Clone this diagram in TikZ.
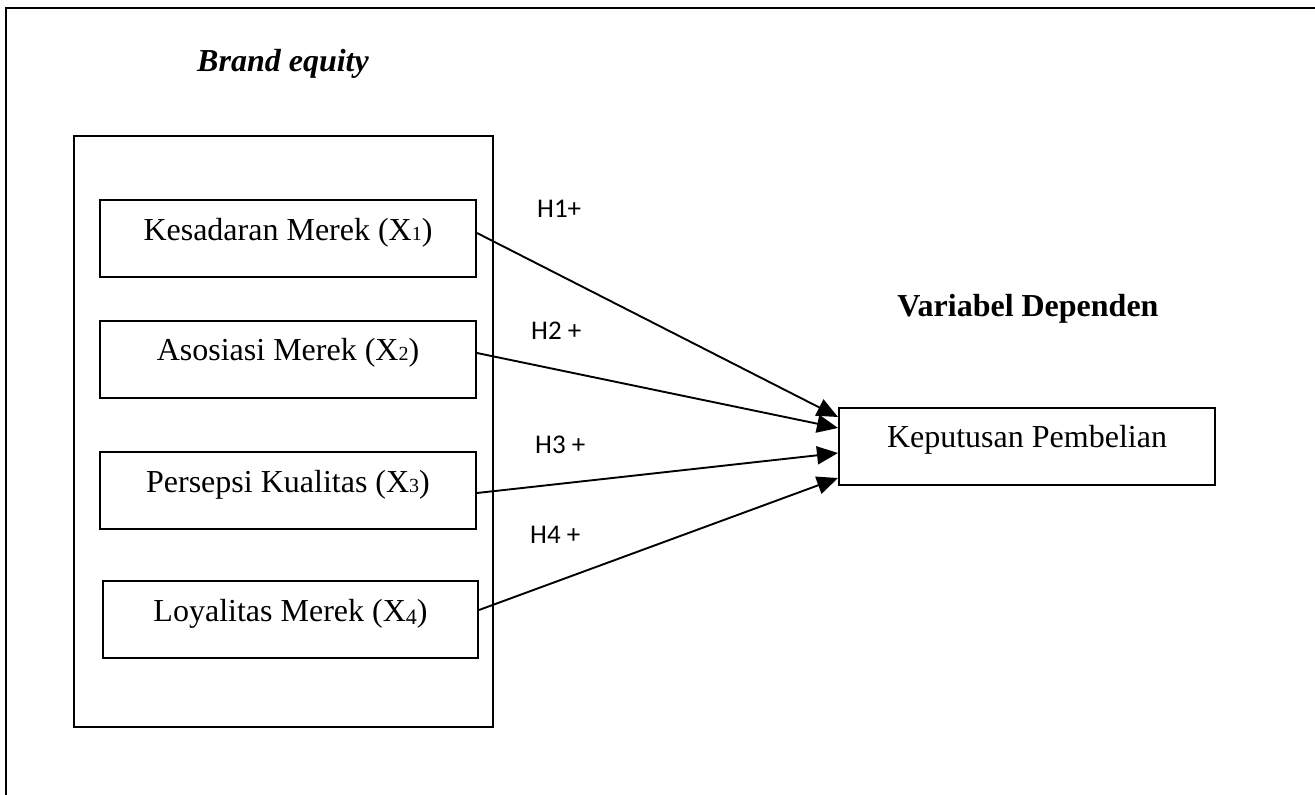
\documentclass[tikz,border=0pt]{standalone}
\usepackage{fontspec}
\setmainfont{Liberation Serif}
\newfontfamily\hfont{Carlito}
\usetikzlibrary{arrows.meta}
\newcommand{\subsm}[1]{{\fontsize{20}{20}\selectfont #1}}
\newcommand{\sublow}[1]{\raisebox{-0.25ex}{\fontsize{22}{22}\selectfont #1}}
\begin{document}
\begin{tikzpicture}[x=1pt,y=-1pt,
  varbox/.style={draw,line width=2pt,minimum height=77pt,inner sep=0pt,
    font=\fontsize{32}{34}\selectfont,text height=22pt,text depth=19pt},
  hlabel/.style={font=\hfont\fontsize{27}{28}\selectfont,anchor=base west,inner sep=0pt},
  path/.style={line width=1.9pt,-{Triangle[length=21pt,width=18pt]}},
  frameline/.style={line width=2.2pt}]
\useasboundingbox (0,0) rectangle (1315,795);
% outer frame (top and left only visible)
\coordinate (ftl) at (6,8);
\coordinate (ftr) at (1315,8);
\coordinate (fbl) at (6,795);
\draw[frameline] (ftr) -- (ftl) -- (fbl);
% brand equity container
\node[draw,line width=2pt,minimum width=419pt,minimum height=591pt,inner sep=0pt] (be) at (283.5,431.5) {};
\node[font=\fontsize{32}{34}\selectfont\bfseries\itshape,anchor=base,inner sep=0pt] (betitle) at (283,71) {Brand equity};
% variables
\node[varbox,minimum width=376pt] (b1) at (288,238.5) {Kesadaran Merek (X\subsm{1})};
\node[varbox,minimum width=376pt] (b2) at (288,359) {Asosiasi Merek (X\subsm{2})};
\node[varbox,minimum width=376pt] (b3) at (288,490.5) {Persepsi Kualitas (X\subsm{3})};
\node[varbox,minimum width=375pt] (b4) at (290.5,619.5) {Loyalitas Merek (X\sublow{4})};
% dependent
\node[font=\fontsize{32}{34}\selectfont\bfseries,anchor=base,inner sep=0pt] (dtitle) at (1028,316) {Variabel Dependen};
\node[varbox,minimum width=376pt,text depth=20pt] (kp) at (1027,446.5) {Keputusan Pembelian};
% hypothesis labels
\node[hlabel] (h1) at (537,217) {H1+};
\node[hlabel] (h2) at (531,339) {H2 +};
\node[hlabel] (h3) at (535,453) {H3 +};
\node[hlabel] (h4) at (530,543) {H4 +};
% arrows
\draw[path] ([yshift=5.5pt]b1.east) -- ([yshift=29.5pt]kp.west);
\draw[path] ([yshift=6pt]b2.east) -- ([yshift=18.5pt]kp.west);
\draw[path] ([yshift=-2.5pt]b3.east) -- ([yshift=-6.5pt]kp.west);
\draw[path] ([yshift=9.5pt]b4.east) -- ([yshift=-31.5pt]kp.west);
\end{tikzpicture}
\end{document}
